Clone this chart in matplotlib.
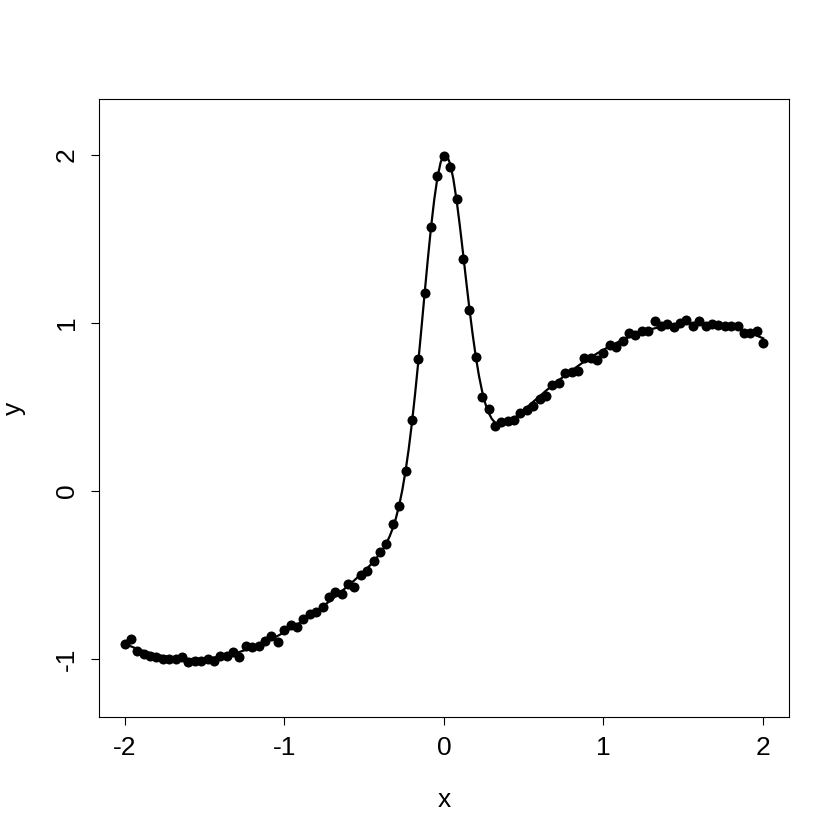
import matplotlib
matplotlib.use("Agg")
import matplotlib.pyplot as plt

plt.rcParams["font.family"] = ["Liberation Sans", "DejaVu Sans"]

# observed points
x_pts = [-2.00, -1.96, -1.92, -1.88, -1.84, -1.80, -1.76, -1.72, -1.68, -1.64,
         -1.60, -1.56, -1.52, -1.48, -1.44, -1.40, -1.36, -1.32, -1.28, -1.24,
         -1.20, -1.16, -1.12, -1.08, -1.04, -1.00, -0.96, -0.92, -0.88, -0.84,
         -0.80, -0.76, -0.72, -0.68, -0.64, -0.60, -0.56, -0.52, -0.48, -0.44,
         -0.40, -0.36, -0.32, -0.28, -0.24, -0.20, -0.16, -0.12, -0.08, -0.04,
         0.00, 0.04, 0.08, 0.12, 0.16, 0.20, 0.24, 0.28, 0.32, 0.36,
         0.40, 0.44, 0.48, 0.52, 0.56, 0.60, 0.64, 0.68, 0.72, 0.76,
         0.80, 0.84, 0.88, 0.92, 0.96, 1.00, 1.04, 1.08, 1.12, 1.16,
         1.20, 1.24, 1.28, 1.32, 1.36, 1.40, 1.44, 1.48, 1.52, 1.56,
         1.60, 1.64, 1.68, 1.72, 1.76, 1.80, 1.84, 1.88, 1.92, 1.96, 2.00]
y_pts = [-0.91, -0.88, -0.95, -0.97, -0.98, -0.99, -1.00, -1.00, -1.00, -0.99,
         -1.02, -1.01, -1.01, -1.00, -1.01, -0.98, -0.98, -0.96, -0.99, -0.92,
         -0.93, -0.92, -0.89, -0.86, -0.90, -0.83, -0.80, -0.81, -0.76, -0.73,
         -0.72, -0.69, -0.63, -0.60, -0.61, -0.555, -0.573, -0.50, -0.476, -0.417,
         -0.363, -0.315, -0.196, -0.089, 0.12, 0.42, 0.786, 1.18, 1.57, 1.875,
         1.994, 1.93, 1.74, 1.38, 1.077, 0.80, 0.56, 0.49, 0.387, 0.41,
         0.415, 0.425, 0.466, 0.48, 0.506, 0.55, 0.565, 0.63, 0.64, 0.70,
         0.71, 0.716, 0.79, 0.79, 0.78, 0.82, 0.87, 0.855, 0.89, 0.94,
         0.93, 0.95, 0.955, 1.01, 0.98, 0.995, 0.975, 1.00, 1.02, 0.98,
         1.01, 0.98, 0.995, 0.99, 0.98, 0.98, 0.98, 0.94, 0.94, 0.95, 0.88]

# smooth curve
line_x = [-2.00, -1.92, -1.84, -1.76, -1.68, -1.60, -1.52, -1.44, -1.36, -1.28,
          -1.20, -1.12, -1.04, -0.96, -0.88, -0.80, -0.72, -0.64, -0.56, -0.48,
          -0.44, -0.40, -0.38, -0.36, -0.34, -0.32, -0.30, -0.28, -0.26, -0.24,
          -0.22, -0.20, -0.18, -0.16, -0.14, -0.12, -0.10, -0.08, -0.06, -0.04,
          -0.02, 0.00, 0.02, 0.04, 0.06, 0.08, 0.10, 0.12, 0.14, 0.16,
          0.18, 0.20, 0.22, 0.24, 0.26, 0.28, 0.30, 0.32, 0.34, 0.36,
          0.38, 0.40, 0.44, 0.48, 0.56, 0.64, 0.72, 0.80, 0.88, 0.96,
          1.04, 1.12, 1.20, 1.28, 1.36, 1.44, 1.52, 1.60, 1.68, 1.76,
          1.84, 1.92, 2.00]
line_y = [-0.909, -0.940, -0.964, -0.982, -0.994, -1.000, -0.999, -0.991, -0.978, -0.958,
          -0.932, -0.900, -0.862, -0.819, -0.771, -0.717, -0.659, -0.597, -0.531, -0.460,
          -0.420, -0.373, -0.345, -0.311, -0.271, -0.222, -0.161, -0.086, 0.006, 0.118,
          0.250, 0.404, 0.578, 0.769, 0.971, 1.179, 1.382, 1.571, 1.735, 1.866,
          1.956, 2.000, 1.996, 1.946, 1.855, 1.730, 1.581, 1.418, 1.250, 1.087,
          0.936, 0.801, 0.686, 0.593, 0.520, 0.467, 0.430, 0.408, 0.396, 0.393,
          0.397, 0.406, 0.432, 0.464, 0.531, 0.597, 0.659, 0.717, 0.771, 0.819,
          0.862, 0.900, 0.932, 0.958, 0.978, 0.991, 0.999, 1.000, 0.994, 0.982,
          0.964, 0.940, 0.909]

x_ticks = [-2, -1, 0, 1, 2]
y_ticks = [-1, 0, 1, 2]

fig = plt.figure(figsize=(8.39, 8.39), dpi=100)
ax = fig.add_axes([0.118, 0.1454, 0.822, 0.7366])

ax.scatter(x_pts, y_pts, s=52, color="black", zorder=3, linewidths=0)
ax.plot(line_x, line_y, color="black", lw=1.6, zorder=2)

ax.set_xlim(-2.16, 2.16)
ax.set_ylim(-1.345, 2.333)
ax.set_xticks(x_ticks)
ax.set_xticklabels([str(t) for t in x_ticks])
ax.set_yticks(y_ticks)
ax.set_yticklabels([str(t) for t in y_ticks], rotation=90, va="center")
ax.tick_params(direction="out", length=5.5, width=0.8, labelsize=19, pad=8)
ax.tick_params(axis="y", pad=9)
for s in ax.spines.values():
    s.set_linewidth(0.8)

ax.set_xlabel("x", fontsize=19, labelpad=20)
ax.set_ylabel("y", fontsize=19, labelpad=21)

fig.savefig("out.png", dpi=100)
